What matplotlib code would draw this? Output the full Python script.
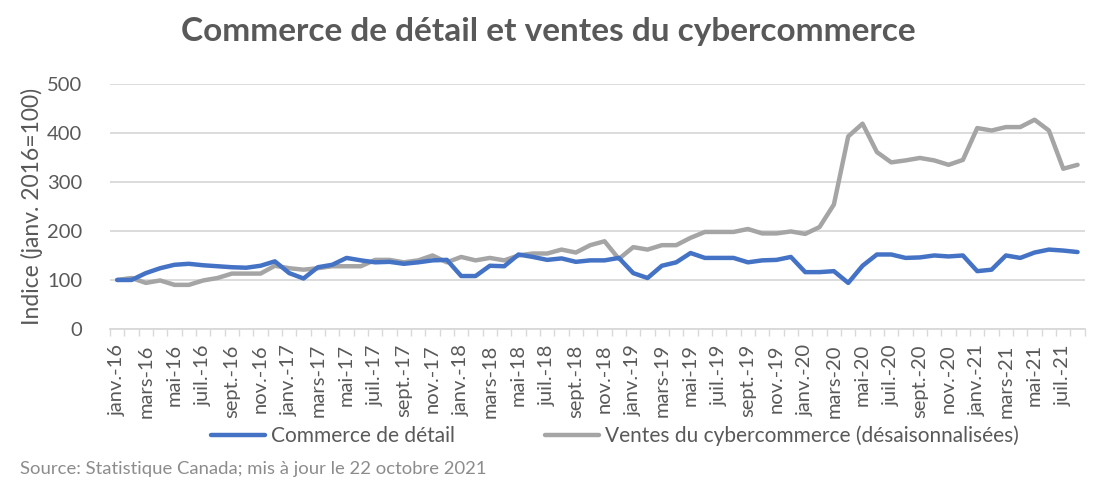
import matplotlib
matplotlib.use("Agg")
import matplotlib.pyplot as plt
import numpy as np

plt.rcParams['font.family'] = ['Lato', 'DejaVu Sans']

# Monthly index values, Jan 2016 - Aug 2021 (janv. 2016 = 100)
mois = ['janv.', 'févr.', 'mars', 'avr.', 'mai', 'juin',
        'juil.', 'août', 'sept.', 'oct.', 'nov.', 'déc.']
annees = ['16', '17', '18', '19', '20', '21']
labels = [m + '-' + a for a in annees for m in mois][:68]

commerce_detail = [100, 100, 114, 124, 131, 133, 130, 128, 126, 125, 129, 138,
                   114, 103, 126, 131, 145, 140, 136, 137, 133, 136, 140, 141,
                   108, 108, 129, 128, 152, 147, 141, 144, 137, 140, 140, 145,
                   114, 104, 129, 136, 155, 145, 145, 145, 136, 140, 141, 147,
                   116, 116, 118, 94, 129, 152, 152, 145, 146, 150, 148, 150,
                   118, 121, 150, 145, 156, 162, 160, 157]

cybercommerce = [100, 104, 94, 99, 90, 90, 99, 104, 113, 113, 113, 129,
                 124, 121, 124, 128, 128, 128, 141, 141, 136, 140, 150, 136,
                 147, 140, 145, 140, 150, 154, 154, 162, 156, 171, 179, 143,
                 167, 162, 171, 171, 186, 198, 198, 198, 204, 195, 195, 199,
                 194, 208, 254, 393, 419, 361, 340, 344, 349, 344, 335, 345,
                 410, 405, 412, 412, 427, 405, 327, 335]

x = np.arange(len(labels))

fig = plt.figure(figsize=(11.08, 4.91), dpi=100)
ax = fig.add_axes([0.0993, 0.330, 0.8797, 0.499])

grille = '#d9d9d9'
texte = '#595959'

ax.plot(x, commerce_detail, color='#4472C4', lw=3.2, solid_joinstyle='round',
        solid_capstyle='round', label='Commerce de détail', zorder=3)
ax.plot(x, cybercommerce, color='#A5A5A5', lw=3.2, solid_joinstyle='round',
        solid_capstyle='round', label='Ventes du cybercommerce (désaisonnalisées)', zorder=2)

ax.set_xlim(-0.5, len(labels) - 0.5)
ax.set_ylim(0, 500)
ax.set_yticks(range(0, 501, 100))
ax.yaxis.grid(True, color=grille, lw=1.3)
ax.set_axisbelow(True)

ax.set_xticks(x[::2])
ax.set_xticklabels(labels[::2], rotation=90, fontsize=14.5, color=texte)
ax.set_xticks(np.arange(-0.5, len(labels)), minor=True)
ax.tick_params(axis='x', which='major', length=0, pad=11)
ax.tick_params(axis='x', which='minor', length=5, color=grille, width=1)
ax.tick_params(axis='y', length=0, labelsize=14.5, labelcolor=texte, pad=20)

for s in ['top', 'right', 'left']:
    ax.spines[s].set_visible(False)
ax.spines['bottom'].set_color(grille)
ax.spines['bottom'].set_linewidth(1.3)

ax.set_ylabel('Indice (janv. 2016=100)', fontsize=16.5, color=texte, labelpad=3)

fig.suptitle('Commerce de détail et ventes du cybercommerce', x=0.495, y=0.965,
             fontsize=24, fontweight='bold', color=texte)

fig.legend(loc='center', bbox_to_anchor=(0.555, 0.112), ncol=2, frameon=False,
           fontsize=15, handlelength=2.6, columnspacing=4.3, handletextpad=0.3,
           labelcolor=texte)

fig.text(0.018, 0.035, 'Source: Statistique Canada; mis à jour le 22 octobre 2021',
         fontsize=13.3, color='#8c8c8c')

fig.savefig('out.png', dpi=100)
